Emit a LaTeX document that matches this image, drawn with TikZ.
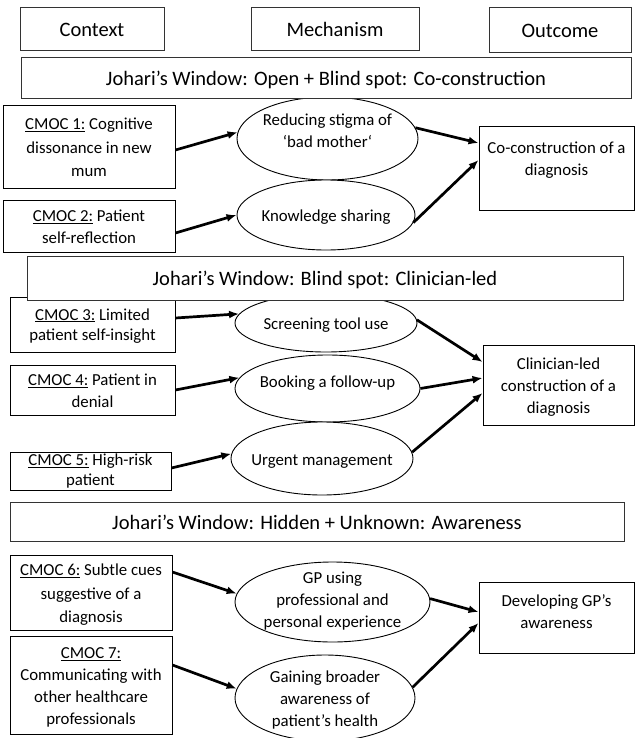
\documentclass[tikz,border=0pt]{standalone}
\usepackage{fontspec}
\setmainfont{Carlito}
\usetikzlibrary{arrows.meta, shapes.geometric}

% text of fixed-size nodes, centred, raised by #1
\newcommand{\inbox}[2][-6.5pt]{\smash{\raisebox{#1}{\makebox[0pt]{\begin{tabular}{@{}c@{}}#2\end{tabular}}}}}
\newcommand{\cmoc}[1]{\underline{CMOC #1:}}

\begin{document}
\begin{tikzpicture}[
    x=1pt, y=-1pt,
    every node/.style={draw, line width=0.9pt, fill=white, inner sep=0pt,
        font=\fontsize{16.8}{22}\selectfont},
    cbox/.style 2 args={rectangle, minimum width=#1, minimum height=#2},
    mech/.style 2 args={ellipse, minimum width=#1, minimum height=#2},
    head/.style 2 args={rectangle, minimum width=#1, minimum height=#2,
        draw=black!80, font=\fontsize{20.5}{24}\selectfont},
    arrow/.style={-{Latex[length=10pt, width=8pt]}, line width=2.7pt}
]
\useasboundingbox (0,0) rectangle (641,738);

% Headers
\node[head={144pt}{43pt}] (hc) at (92,28.5) {\inbox[-8pt]{Context}};
\node[head={168pt}{43pt}] (hm) at (335,28.5) {\inbox[-8pt]{Mechanism}};
\node[head={142pt}{45pt}] (ho) at (560,29.5) {\inbox[-8pt]{Outcome}};

% Row 1
\node[cbox={172pt}{83pt}] (c1) at (89,146.5) {\inbox{\cmoc{1} Cognitive\\[1.5pt] dissonance in new\\[1.5pt] mum}};
\node[mech={181pt}{83pt}] (m1) at (327.5,138.5) {\inbox[2.5pt]{Reducing stigma of\\ ‘bad mother‘}};
\node[cbox={155pt}{84pt}] (o1) at (556.5,168) {\inbox[3.5pt]{Co-construction of a\\ diagnosis}};

% Row 2
\node[cbox={172pt}{52pt}] (c2) at (89,226) {\inbox{\cmoc{2} Patient\\ self-reflection}};
\node[mech={178pt}{70pt}] (m2) at (326,215) {\inbox{Knowledge sharing}};

% Row 3
\node[cbox={165pt}{55pt}] (c3) at (92.5,324.5) {\inbox[-5.5pt]{\cmoc{3} Limited\\[-2pt] patient self-insight}};
\node[mech={182pt}{58pt}] (m3) at (326,323) {\inbox{Screening tool use}};
\node[cbox={151pt}{80pt}] (o2) at (558.5,385) {\inbox{Clinician-led\\ construction of a\\ diagnosis}};

% Row 4
\node[cbox={165pt}{50pt}] (c4) at (92.5,390) {\inbox{\cmoc{4} Patient in\\ denial}};
\node[mech={185pt}{67pt}] (m4) at (327.5,388.5) {\inbox[1.5pt]{Booking a follow-up}};

% Row 5
\node[cbox={161pt}{38pt}] (c5) at (90.5,471) {\inbox[-4.5pt]{\cmoc{5} High-risk\\[-2.5pt] patient}};
\node[mech={182pt}{73pt}] (m5) at (322,458.5) {\inbox{Urgent management}};

% Row 6
\node[cbox={162pt}{75pt}] (c6) at (91,592.5) {\inbox{\cmoc{6} Subtle cues\\[1.5pt] suggestive of a\\[1.5pt] diagnosis}};
\node[mech={195pt}{80pt}] (m6) at (332.5,602) {\inbox[-3pt]{GP using\\ professional and\\ personal experience}};
\node[cbox={155pt}{71pt}] (o3) at (556.5,617.5) {\inbox[0pt]{Developing GP’s\\ awareness}};

% Row 7
\node[cbox={162pt}{98pt}] (c7) at (91,685) {\inbox{\cmoc{7}\\ Communicating with\\ other healthcare\\ professionals}};
\node[mech={180pt}{86pt}] (m7) at (325,698) {\inbox{Gaining broader\\ awareness of\\ patient’s health}};

% Johari's window banners
\node[head={610pt}{41pt}] (jw1) at (326,77.5) {\inbox[-8pt]{Johari’s Window: Open + Blind spot: Co-construction}};
\node[head={596pt}{44pt}] (jw2) at (325,278) {\inbox[-8pt]{Johari’s Window: Blind spot: Clinician-led}};
\node[head={614pt}{39pt}] (jw3) at (317,521.5) {\inbox[-8pt]{Johari’s Window: Hidden + Unknown: Awareness}};

% Arrows
\draw[arrow] ([yshift=-3.5pt]c1.east) -- (m1.176);
\draw[arrow] ([yshift=-7pt]c2.east) -- (m2.west);
\draw[arrow] (m1.7) -- ([yshift=25pt]o1.west);
\draw[arrow] (m2.-5) -- ([yshift=8pt]o1.west);

\draw[arrow] ([yshift=6.5pt]c3.east) -- (m3.174);
\draw[arrow] (c4.east) -- (m4.173);
\draw[arrow] ([yshift=3pt]c5.east) -- (m5.177);
\draw[arrow] (m3.2) -- ([yshift=23pt]o2.west);
\draw[arrow] (m4.east) -- ([yshift=7pt]o2.west);
\draw[arrow] (m5.4) -- ([yshift=-8pt]o2.west);

\draw[arrow] ([yshift=20.5pt]c6.east) -- (m6.175);
\draw[arrow] ([yshift=20pt]c7.east) -- (m7.174);
\draw[arrow] (m6.2) -- ([yshift=5.5pt]o3.west);
\draw[arrow] (m7.7) -- ([yshift=-5.5pt]o3.west);
\end{tikzpicture}
\end{document}
